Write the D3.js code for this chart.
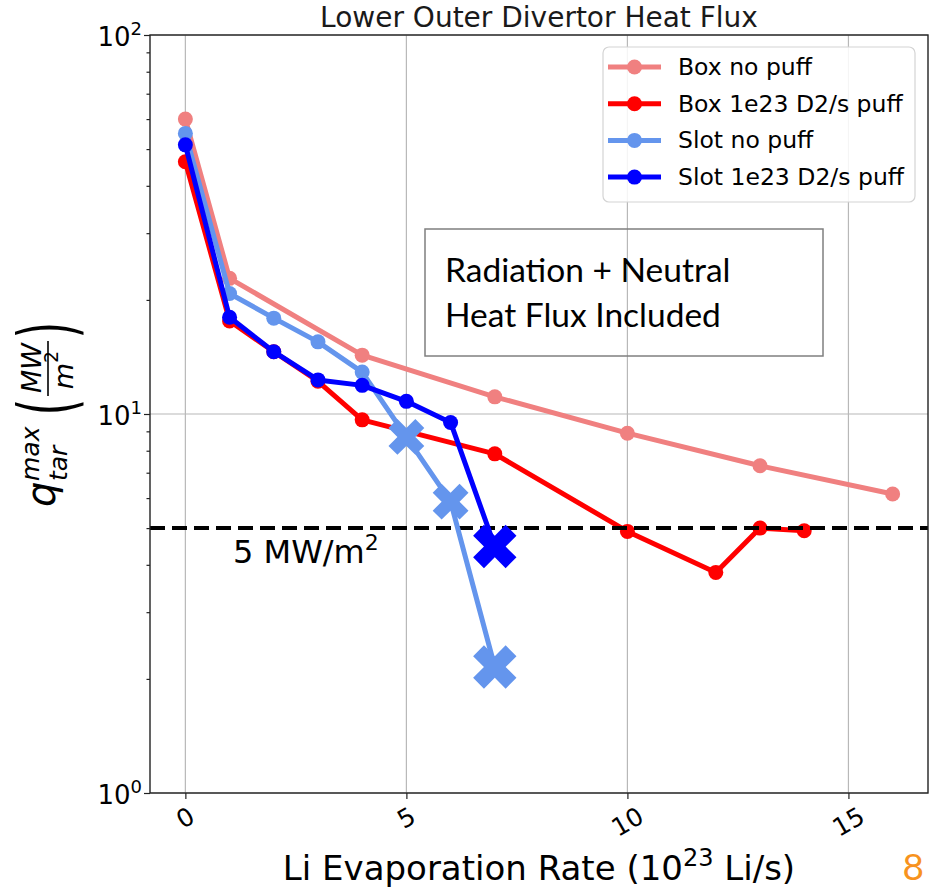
<!DOCTYPE html>
<html>
<head>
<meta charset="utf-8">
<script src="https://cdn.jsdelivr.net/npm/d3@7"></script>
<style>
  html, body { margin: 0; padding: 0; background: #fff; }
  svg { display: block; }
  text { font-family: "DejaVu Sans", sans-serif; }
</style>
</head>
<body>
<svg id="chart" width="930" height="888"></svg>
<script>
// ---- data -------------------------------------------------------------
const seriesNames = ["Box no puff", "Box 1e23 D2/s puff", "Slot no puff", "Slot 1e23 D2/s puff"];

const boxNoPuffX = [0, 1, 4, 7, 10, 13, 16];
const boxNoPuffY = [60, 22.8, 14.3, 11.1, 8.9, 7.3, 6.15];
const boxNoPuffMark = ["dot", "dot", "dot", "dot", "dot", "dot", "dot"];

const boxPuffX = [0, 1, 2, 3, 4, 7, 10, 12, 13, 14];
const boxPuffY = [46.3, 17.6, 14.6, 12.2, 9.65, 7.85, 4.9, 3.82, 5.0, 4.92];
const boxPuffMark = ["dot", "dot", "dot", "dot", "dot", "dot", "dot", "dot", "dot", "dot"];

const slotNoPuffX = [0, 1, 2, 3, 4, 5, 6, 7];
const slotNoPuffY = [55, 20.8, 17.9, 15.5, 12.9, 8.7, 5.87, 2.15];
const slotNoPuffMark = ["dot", "dot", "dot", "dot", "dot", "cross", "cross", "crossEnd"];

const slotPuffX = [0, 1, 2, 3, 4, 5, 6, 7];
const slotPuffY = [51.3, 18.0, 14.6, 12.3, 11.9, 10.8, 9.5, 4.47];
const slotPuffMark = ["dot", "dot", "dot", "dot", "dot", "dot", "dot", "crossEnd"];

const thresholdValue = 5;
const thresholdLabel = "5 MW/m";
const xTickValues = [0, 5, 10, 15];
const yTickValues = [1, 10, 100];
const yMinorTicks = [2, 3, 4, 5, 6, 7, 8, 9, 20, 30, 40, 50, 60, 70, 80, 90];
const titleText = "Lower Outer Divertor Heat Flux";
const noteLines = ["Radiation + Neutral", "Heat Flux Included"];
const slideNumber = "8";

// ---- layout -----------------------------------------------------------
const svg = d3.select("#chart");
const plot = { left: 150, right: 928, top: 35, bottom: 793 };

const x = d3.scaleLinear().domain([-0.8, 16.8]).range([plot.left, plot.right]);
const y = d3.scaleLog().domain([1, 100]).range([plot.bottom, plot.top]);

const colors = ["#F08080", "#FF0000", "#6495ED", "#0000FF"];

const series = [
  { xs: boxNoPuffX, ys: boxNoPuffY, marks: boxNoPuffMark },
  { xs: boxPuffX, ys: boxPuffY, marks: boxPuffMark },
  { xs: slotNoPuffX, ys: slotNoPuffY, marks: slotNoPuffMark },
  { xs: slotPuffX, ys: slotPuffY, marks: slotPuffMark }
].map((s, i) => ({
  name: seriesNames[i],
  color: colors[i],
  points: s.xs.map((v, j) => ({ x: v, y: s.ys[j], mark: s.marks[j] }))
}));

// ---- grid -------------------------------------------------------------
const grid = svg.append("g").attr("stroke", "#b8b8b8").attr("stroke-width", 1.2);
grid.selectAll("line.gx").data(xTickValues).join("line")
  .attr("x1", d => x(d)).attr("x2", d => x(d))
  .attr("y1", plot.top).attr("y2", plot.bottom);
grid.selectAll("line.gy").data(yTickValues).join("line")
  .attr("x1", plot.left).attr("x2", plot.right)
  .attr("y1", d => y(d)).attr("y2", d => y(d));

// ---- series -------------------------------------------------------------
const line = d3.line().x(d => x(d.x)).y(d => y(d.y));

function crossPath(s) {
  const a = s / 2, b = s / 6, r = Math.SQRT1_2;
  const pts = [[-b, -a], [b, -a], [b, -b], [a, -b], [a, b], [b, b], [b, a], [-b, a], [-b, b], [-a, b], [-a, -b], [-b, -b]];
  return "M" + pts.map(([px, py]) => [((px - py) * r).toFixed(2), ((px + py) * r).toFixed(2)].join(",")).join("L") + "Z";
}
const markSize = { cross: 38, crossEnd: 46 };

function drawSeries(s) {
  const g = svg.append("g");
  g.append("path").datum(s.points)
    .attr("d", line).attr("fill", "none")
    .attr("stroke", s.color).attr("stroke-width", 5)
    .attr("stroke-linejoin", "round");
  g.selectAll("circle").data(s.points.filter(p => p.mark === "dot")).join("circle")
    .attr("cx", d => x(d.x)).attr("cy", d => y(d.y)).attr("r", 7.5)
    .attr("fill", s.color);
  g.selectAll("path.cross").data(s.points.filter(p => p.mark !== "dot")).join("path")
    .attr("class", "cross")
    .attr("transform", d => `translate(${x(d.x)},${y(d.y)})`)
    .attr("d", d => crossPath(markSize[d.mark]))
    .attr("fill", s.color);
}

drawSeries(series[0]);
drawSeries(series[1]);

// threshold line
svg.append("line")
  .attr("x1", plot.left).attr("x2", plot.right)
  .attr("y1", y(thresholdValue)).attr("y2", y(thresholdValue))
  .attr("stroke", "#000").attr("stroke-width", 4)
  .attr("stroke-dasharray", "15,7");

drawSeries(series[2]);
drawSeries(series[3]);

const thr = svg.append("text").attr("x", 233).attr("y", 563)
  .style("font-size", "32px").style("fill", "#000");
thr.append("tspan").text(thresholdLabel);
thr.append("tspan").attr("dy", -13).style("font-size", "22px").text("2");

// ---- axes ---------------------------------------------------------------
const xAxis = svg.append("g").attr("transform", `translate(0,${plot.bottom})`)
  .call(d3.axisBottom(x).tickValues(xTickValues).tickSize(6).tickSizeOuter(0).tickFormat(""));
const yAxis = svg.append("g").attr("transform", `translate(${plot.left},0)`)
  .call(d3.axisLeft(y).tickValues(yTickValues).tickSize(6).tickSizeOuter(0).tickFormat(""));
const yMinor = svg.append("g").attr("transform", `translate(${plot.left},0)`)
  .call(d3.axisLeft(y).tickValues(yMinorTicks).tickSize(3.5).tickSizeOuter(0).tickFormat(""));
[xAxis, yAxis, yMinor].forEach(g => {
  g.select(".domain").remove();
  g.selectAll(".tick line").attr("stroke", "#222").attr("stroke-width", 1.2);
});

// frame
svg.append("rect")
  .attr("x", plot.left).attr("y", plot.top)
  .attr("width", plot.right - plot.left).attr("height", plot.bottom - plot.top)
  .attr("fill", "none").attr("stroke", "#222").attr("stroke-width", 1.4);

// y tick labels as powers of ten
yTickValues.forEach(v => {
  const t = svg.append("text")
    .attr("x", plot.left - 8).attr("y", y(v) + 11)
    .attr("text-anchor", "end").style("font-size", "26px").style("fill", "#000");
  t.append("tspan").text("10");
  t.append("tspan").attr("dy", -11).style("font-size", "18px").text(Math.round(Math.log10(v)));
});

// x tick labels, rotated
xTickValues.forEach(v => {
  const t = svg.append("text")
    .attr("text-anchor", "middle").attr("dominant-baseline", "central")
    .style("font-size", "25px").style("fill", "#000").text(v);
  const w = t.node().getComputedTextLength();
  const h = 25 * 1.1;
  const rh = w * 0.5 + h * Math.cos(Math.PI / 6);
  t.attr("transform", `translate(${x(v)},${plot.bottom + 9 + rh / 2}) rotate(-30)`);
});

// x label
const xl = svg.append("text")
  .attr("x", (plot.left + plot.right) / 2).attr("y", 880)
  .attr("text-anchor", "middle").style("font-size", "34px").style("fill", "#000");
xl.append("tspan").text("Li Evaporation Rate (10");
xl.append("tspan").attr("dy", -14).style("font-size", "24px").text("23");
xl.append("tspan").attr("dy", 14).text(" Li/s)");

// title
svg.append("text")
  .attr("x", (plot.left + plot.right) / 2).attr("y", 27)
  .attr("text-anchor", "middle").style("font-size", "28px").style("fill", "#1a1a1a")
  .text(titleText);

// y label: q_tar^max (MW / m^2), rotated
const yl = svg.append("g").attr("transform", "translate(55,507) rotate(-90)").style("fill", "#000");
yl.append("text").attr("x", 0).attr("y", 0).style("font-size", "40px").style("font-style", "italic").text("q");
yl.append("text").attr("x", 26).attr("y", -16).style("font-size", "25px").style("font-style", "italic").text("max");
yl.append("text").attr("x", 26).attr("y", 12).style("font-size", "25px").style("font-style", "italic").text("tar");
yl.append("text").attr("text-anchor", "middle")
  .attr("transform", "translate(100,18) scale(0.55,1)")
  .style("font-size", "76px").text("(");
yl.append("text").attr("x", 139).attr("y", -14).attr("text-anchor", "middle")
  .style("font-size", "27px").style("font-style", "italic").text("MW");
yl.append("line").attr("x1", 111).attr("x2", 166).attr("y1", -7).attr("y2", -7)
  .attr("stroke", "#000").attr("stroke-width", 1.6);
const den = yl.append("text").attr("x", 137).attr("y", 18).attr("text-anchor", "middle")
  .style("font-size", "27px").style("font-style", "italic");
den.append("tspan").text("m");
den.append("tspan").attr("dy", -15).style("font-size", "19px").style("font-style", "normal").text("2");
yl.append("text").attr("text-anchor", "middle")
  .attr("transform", "translate(177,18) scale(0.55,1)")
  .style("font-size", "76px").text(")");

// ---- legend ---------------------------------------------------------------
const lg = svg.append("g");
lg.append("rect").attr("x", 603).attr("y", 47).attr("width", 312).attr("height", 155)
  .attr("rx", 6).attr("fill", "#fff").attr("fill-opacity", 0.85)
  .attr("stroke", "#d4d4d4").attr("stroke-width", 1.2);
series.forEach((s, i) => {
  const cy = 67 + i * 36.7;
  lg.append("line").attr("x1", 608).attr("x2", 661).attr("y1", cy).attr("y2", cy)
    .attr("stroke", s.color).attr("stroke-width", 5);
  lg.append("circle").attr("cx", 634.5).attr("cy", cy).attr("r", 7.5).attr("fill", s.color);
  lg.append("text").attr("x", 678).attr("y", cy).attr("dominant-baseline", "central")
    .style("font-size", "23.5px").style("fill", "#000").text(s.name);
});

// ---- note box -------------------------------------------------------------
svg.append("rect").attr("x", 425).attr("y", 229).attr("width", 398).attr("height", 127)
  .attr("fill", "none").attr("stroke", "#7f7f7f").attr("stroke-width", 1.5);
noteLines.forEach((t, i) => {
  svg.append("text").attr("x", 445).attr("y", 282 + i * 45)
    .style("font-family", "Lato, 'Open Sans', sans-serif").style("font-size", "33.5px")
    .style("fill", "#000").text(t);
});

// slide number
svg.append("text").attr("x", 924).attr("y", 880).attr("text-anchor", "end")
  .style("font-family", "Lato, sans-serif").style("font-size", "37px").style("fill", "#F7931E")
  .text(slideNumber);
</script>
</body>
</html>
